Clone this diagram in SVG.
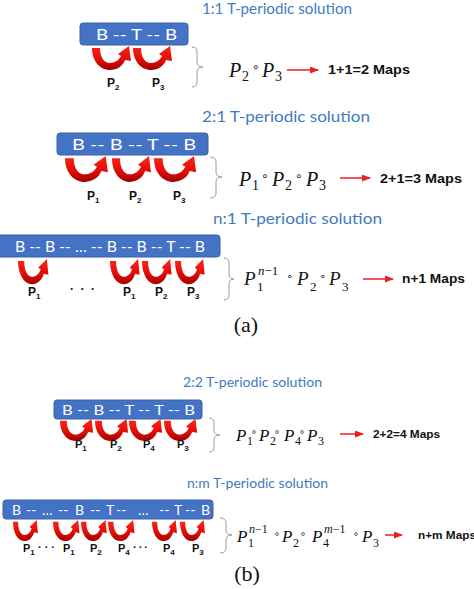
<svg xmlns="http://www.w3.org/2000/svg" xmlns:xlink="http://www.w3.org/1999/xlink" width="474" height="589" viewBox="0 0 474 589">
<style>
.title{font-family:Lato,"Open Sans",sans-serif;fill:#3F7BBF}
.box{fill:#4472C4;stroke:#3A62A8;stroke-width:1}
.btxt{font-family:Lato,"Open Sans",sans-serif;fill:#FFFFFF}
.lbl{font-family:"Liberation Sans",Arial,sans-serif;font-weight:bold;fill:#111}
.sub{font-size:8px}
.m{font-family:"Liberation Serif","Times New Roman",serif;font-style:italic;fill:#111}
.mr{font-family:"Liberation Serif","Times New Roman",serif;fill:#111}
.op{font-family:"DejaVu Sans",sans-serif;fill:#111}
.maps{font-family:"Liberation Sans",Arial,sans-serif;font-weight:bold;fill:#111}
.brace{fill:none;stroke:#9A9A9A;stroke-width:1}
.red{stroke:#E8201E;stroke-width:1.5;fill:none}
.cap{font-family:"Liberation Serif","Times New Roman",serif;fill:#111;font-size:22px}
</style>
<defs>
<linearGradient id="rg" x1="0" y1="0" x2="0" y2="1">
<stop offset="0" stop-color="#FF2418"/>
<stop offset="0.6" stop-color="#E00C08"/>
<stop offset="1" stop-color="#A00000"/>
</linearGradient>
<path id="ca" d="M0,2 C0,15 8,24 18,24 C25,24 31,20 33,14 L39,15 L37,0 L26,8 L29,10 C27,14 23,17 18,17 C12,17 8,11 8,2 Z" fill="url(#rg)"/>
<marker id="ah" markerUnits="userSpaceOnUse" markerWidth="9" markerHeight="7" refX="8" refY="3.5" orient="auto">
<path d="M0,0 L9,3.5 L0,7 Z" fill="#E8201E"/>
</marker>
</defs>

<g id="panel-a1">
<text class="title" x="202" y="14" font-size="15" textLength="150" lengthAdjust="spacingAndGlyphs">1:1 T-periodic solution</text>
<rect class="box" x="80" y="23" width="108" height="22" rx="3"/>
<text class="btxt" x="96" y="40" font-size="16" textLength="81" lengthAdjust="spacingAndGlyphs">B -- T -- B</text>
<use xlink:href="#ca" transform="translate(92,46)"/>
<use xlink:href="#ca" transform="translate(133,46)"/>
<text class="lbl" x="107" y="87" font-size="12">P<tspan class="sub" dy="3">2</tspan></text>
<text class="lbl" x="152" y="87" font-size="12">P<tspan class="sub" dy="3">3</tspan></text>
<path class="brace" d="M192,47 Q197,47 197,52 L197,62 Q197,67 203,67 Q197,67 197,72 L197,82 Q197,87 192,87"/>
<text class="m" x="229" y="77" font-size="20">P</text>
<text class="mr" x="242" y="81" font-size="14">2</text>
<text class="op" x="252" y="71" font-size="12">∘</text>
<text class="m" x="262" y="77" font-size="20">P</text>
<text class="mr" x="275" y="81" font-size="14">3</text>
<text class="maps" x="328" y="74" font-size="12" textLength="82" lengthAdjust="spacingAndGlyphs">1+1=2 Maps</text>
</g>

<g id="panel-a2">
<text class="title" x="202" y="122" font-size="16" textLength="168" lengthAdjust="spacingAndGlyphs">2:1 T-periodic solution</text>
<rect class="box" x="57" y="133" width="151" height="22" rx="3"/>
<text class="btxt" x="72" y="150" font-size="16" textLength="124" lengthAdjust="spacingAndGlyphs">B -- B -- T -- B</text>
<use xlink:href="#ca" transform="translate(65,156) scale(1.1,1.08)"/>
<use xlink:href="#ca" transform="translate(112,156) scale(1.0,1.08)"/>
<use xlink:href="#ca" transform="translate(154,156) scale(1.08,1.08)"/>
<text class="lbl" x="87" y="200" font-size="12">P<tspan class="sub" dy="3">1</tspan></text>
<text class="lbl" x="129" y="200" font-size="12">P<tspan class="sub" dy="3">2</tspan></text>
<text class="lbl" x="173" y="200" font-size="12">P<tspan class="sub" dy="3">3</tspan></text>
<path class="brace" d="M210,157 Q216,157 216,162 L216,172 Q216,177 222,177 Q216,177 216,182 L216,193 Q216,198 210,198"/>
<text class="m" x="239" y="186" font-size="20">P</text>
<text class="mr" x="252" y="190" font-size="14">1</text>
<text class="op" x="261" y="180" font-size="12">∘</text>
<text class="m" x="272" y="186" font-size="20">P</text>
<text class="mr" x="285" y="190" font-size="14">2</text>
<text class="op" x="295" y="180" font-size="12">∘</text>
<text class="m" x="306" y="186" font-size="20">P</text>
<text class="mr" x="319" y="190" font-size="14">3</text>
<text class="maps" x="380" y="183" font-size="12" textLength="82" lengthAdjust="spacingAndGlyphs">2+1=3 Maps</text>
</g>

<g id="panel-a3">
<text class="title" x="213" y="224" font-size="16" textLength="169" lengthAdjust="spacingAndGlyphs">n:1 T-periodic solution</text>
<rect class="box" x="-4" y="235" width="224" height="22" rx="3"/>
<text class="btxt" x="15" y="252" font-size="15" textLength="190" lengthAdjust="spacingAndGlyphs">B -- B -- … -- B -- B -- T -- B</text>
<use xlink:href="#ca" transform="translate(18,259) scale(0.78,1.05)"/>
<use xlink:href="#ca" transform="translate(110,259) scale(0.76,1.05)"/>
<use xlink:href="#ca" transform="translate(142,259) scale(0.76,1.05)"/>
<use xlink:href="#ca" transform="translate(175,259) scale(0.76,1.05)"/>
<text class="lbl" x="28" y="296" font-size="12">P<tspan class="sub" dy="3">1</tspan></text>
<text class="lbl" x="70" y="293" font-size="12" textLength="25">· · ·</text>
<text class="lbl" x="123" y="296" font-size="12">P<tspan class="sub" dy="3">1</tspan></text>
<text class="lbl" x="155" y="296" font-size="12">P<tspan class="sub" dy="3">2</tspan></text>
<text class="lbl" x="187" y="296" font-size="12">P<tspan class="sub" dy="3">3</tspan></text>
<path class="brace" d="M224,258 Q229,258 229,263 L229,274 Q229,279 234,279 Q229,279 229,284 L229,295 Q229,300 224,300"/>
<text class="m" x="244" y="285" font-size="19">P</text>
<text class="mr" x="257" y="291" font-size="13">1</text>
<text x="258" y="275" font-size="13"><tspan class="m">n</tspan><tspan class="mr">−1</tspan></text>
<text class="op" x="286" y="280" font-size="11">∘</text>
<text class="m" x="297" y="285" font-size="19">P</text>
<text class="mr" x="310" y="291" font-size="13">2</text>
<text class="op" x="319" y="280" font-size="11">∘</text>
<text class="m" x="329" y="285" font-size="19">P</text>
<text class="mr" x="342" y="291" font-size="13">3</text>
<text class="maps" x="402" y="283" font-size="12" textLength="63" lengthAdjust="spacingAndGlyphs">n+1 Maps</text>
<text class="cap" x="246" y="332" text-anchor="middle">(a)</text>
</g>

<g id="panel-b1">
<text class="title" x="183" y="387" font-size="14" textLength="139" lengthAdjust="spacingAndGlyphs">2:2 T-periodic solution</text>
<rect class="box" x="54" y="400" width="148" height="19" rx="3"/>
<text class="btxt" x="62" y="414.5" font-size="14" textLength="133" lengthAdjust="spacingAndGlyphs">B -- B -- T -- T -- B</text>
<use xlink:href="#ca" transform="translate(60,419) scale(0.85,0.92)"/>
<use xlink:href="#ca" transform="translate(95,419) scale(0.85,0.92)"/>
<use xlink:href="#ca" transform="translate(129,419) scale(0.85,0.92)"/>
<use xlink:href="#ca" transform="translate(164,419) scale(0.85,0.92)"/>
<text class="lbl" x="75" y="448" font-size="11">P<tspan class="sub" font-size="7" dy="3">1</tspan></text>
<text class="lbl" x="110" y="448" font-size="11">P<tspan class="sub" font-size="7" dy="3">2</tspan></text>
<text class="lbl" x="143" y="448" font-size="11">P<tspan class="sub" font-size="7" dy="3">4</tspan></text>
<text class="lbl" x="177" y="448" font-size="11">P<tspan class="sub" font-size="7" dy="3">3</tspan></text>
<path class="brace" d="M209,418 Q214,418 214,423 L214,430 Q214,435 220,435 Q214,435 214,440 L214,447 Q214,452 209,452"/>
<text class="m" x="236" y="441" font-size="17">P</text>
<text class="mr" x="247" y="445" font-size="12">1</text>
<text class="op" x="251" y="435" font-size="10">∘</text>
<text class="m" x="259" y="441" font-size="17">P</text>
<text class="mr" x="270" y="445" font-size="12">2</text>
<text class="op" x="274" y="435" font-size="10">∘</text>
<text class="m" x="284" y="441" font-size="17">P</text>
<text class="mr" x="295" y="445" font-size="12">4</text>
<text class="op" x="299" y="435" font-size="10">∘</text>
<text class="m" x="307" y="441" font-size="17">P</text>
<text class="mr" x="318" y="445" font-size="12">3</text>
<text class="maps" x="373" y="438" font-size="10" textLength="67" lengthAdjust="spacingAndGlyphs">2+2=4 Maps</text>
</g>

<g id="panel-b2">
<text class="title" x="187" y="488" font-size="14" textLength="141" lengthAdjust="spacingAndGlyphs">n:m T-periodic solution</text>
<rect class="box" x="3" y="500" width="210" height="19" rx="3"/>
<text class="btxt" y="514.5" font-size="14"><tspan x="12">B</tspan><tspan x="26">--</tspan><tspan x="42">…</tspan><tspan x="58">--</tspan><tspan x="75">B</tspan><tspan x="90">--</tspan><tspan x="106">T</tspan><tspan x="116">--</tspan><tspan x="138">…</tspan><tspan x="159">--</tspan><tspan x="174">T</tspan><tspan x="185">--</tspan><tspan x="201">B</tspan></text>
<use xlink:href="#ca" transform="translate(13,520) scale(0.64,0.88)"/>
<use xlink:href="#ca" transform="translate(53,520) scale(0.68,0.88)"/>
<use xlink:href="#ca" transform="translate(81,520) scale(0.66,0.88)"/>
<use xlink:href="#ca" transform="translate(108,520) scale(0.68,0.88)"/>
<use xlink:href="#ca" transform="translate(152,520) scale(0.64,0.88)"/>
<use xlink:href="#ca" transform="translate(180,520) scale(0.64,0.88)"/>
<text class="lbl" x="23" y="552" font-size="11">P<tspan class="sub" font-size="7" dy="3">1</tspan></text>
<text class="lbl" x="38" y="551" font-size="11" textLength="17">· · ·</text>
<text class="lbl" x="63" y="552" font-size="11">P<tspan class="sub" font-size="7" dy="3">1</tspan></text>
<text class="lbl" x="90" y="552" font-size="11">P<tspan class="sub" font-size="7" dy="3">2</tspan></text>
<text class="lbl" x="118" y="552" font-size="11">P<tspan class="sub" font-size="7" dy="3">4</tspan></text>
<text class="lbl" x="133" y="551" font-size="11" textLength="15">· · ·</text>
<text class="lbl" x="163" y="552" font-size="11">P<tspan class="sub" font-size="7" dy="3">4</tspan></text>
<text class="lbl" x="192" y="552" font-size="11">P<tspan class="sub" font-size="7" dy="3">3</tspan></text>
<path class="brace" d="M220,518 Q226,518 226,523 L226,530 Q226,535 232,535 Q226,535 226,540 L226,548 Q226,553 220,553"/>
<text class="m" x="237" y="542" font-size="17">P</text>
<text class="mr" x="248" y="547" font-size="12">1</text>
<text x="249" y="533" font-size="12"><tspan class="m">n</tspan><tspan class="mr">−1</tspan></text>
<text class="op" x="274" y="537" font-size="10">∘</text>
<text class="m" x="282" y="542" font-size="17">P</text>
<text class="mr" x="293" y="547" font-size="12">2</text>
<text class="op" x="300" y="537" font-size="10">∘</text>
<text class="m" x="312" y="542" font-size="17">P</text>
<text class="mr" x="323" y="547" font-size="12">4</text>
<text x="324" y="533" font-size="12"><tspan class="m">m</tspan><tspan class="mr">−1</tspan></text>
<text class="op" x="353" y="537" font-size="10">∘</text>
<text class="m" x="362" y="542" font-size="17">P</text>
<text class="mr" x="373" y="547" font-size="12">3</text>
<text class="maps" x="418" y="539" font-size="10" textLength="58" lengthAdjust="spacingAndGlyphs">n+m Maps</text>
<text class="cap" x="247" y="581" text-anchor="middle">(b)</text>
</g>

<g id="connectors">
<line class="red" x1="287" y1="70" x2="318" y2="70" marker-end="url(#ah)"/>
<line class="red" x1="340" y1="178" x2="370" y2="178" marker-end="url(#ah)"/>
<line class="red" x1="363" y1="279" x2="393" y2="279" marker-end="url(#ah)"/>
<line class="red" x1="340" y1="434" x2="363" y2="434" marker-end="url(#ah)"/>
<line class="red" x1="385" y1="535" x2="402" y2="535" marker-end="url(#ah)"/>
</g>
</svg>
